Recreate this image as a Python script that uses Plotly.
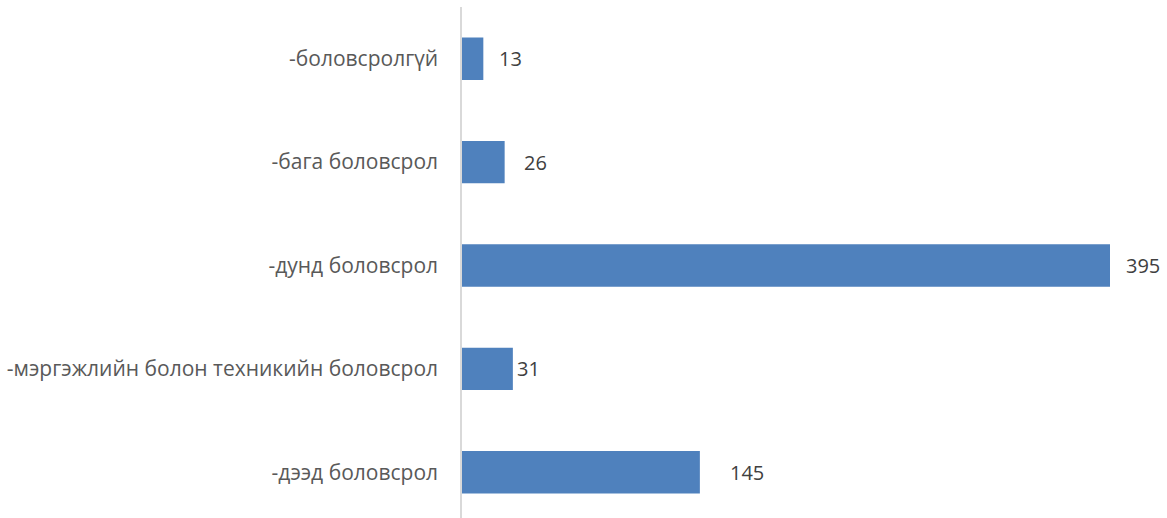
import plotly.graph_objects as go

categories = ["-боловсролгүй", "-бага боловсрол", "-дунд боловсрол",
              "-мэргэжлийн болон техникийн боловсрол", "-дээд боловсрол"]
values = [13, 26, 395, 31, 145]
label_shift_px = [14, 17, 14, 2, 28]

W, H = 1167, 518
ml, mr, mt, mb = 462, 10, 7, 0
plot_h = H - mt - mb
cat_px = 103.4
ymax = plot_h / cat_px - 0.5

fig = go.Figure()
fig.add_trace(go.Bar(
    x=values, y=categories, orientation="h",
    marker=dict(color="#4F81BD", line=dict(width=0)),
    width=0.41, hoverinfo="skip",
))
for c, v, s in zip(categories, values, label_shift_px):
    fig.add_annotation(x=v, y=c, text=str(v), showarrow=False,
                       xanchor="left", yanchor="middle", xshift=s,
                       font=dict(family="Open Sans", size=20, color="#404040"))

fig.update_layout(
    width=W, height=H,
    margin=dict(l=ml, r=mr, t=mt, b=mb, autoexpand=False),
    plot_bgcolor="white", paper_bgcolor="white",
    showlegend=False,
    font=dict(family="Open Sans", size=21, color="#595959"),
    xaxis=dict(range=[0, (W - ml - mr) / 1.6405], visible=False, showgrid=False, zeroline=False),
    yaxis=dict(categoryorder="array", categoryarray=categories,
               range=[ymax, -0.5], showline=True, linecolor="#D9D9D9", linewidth=1.5,
               ticks="", showgrid=False, zeroline=False, ticklabelstandoff=18,
               tickfont=dict(family="Open Sans", size=21, color="#595959")),
)
fig.write_html("out.html", config={"displayModeBar": False},
               post_script="document.body.style.margin='0';")
